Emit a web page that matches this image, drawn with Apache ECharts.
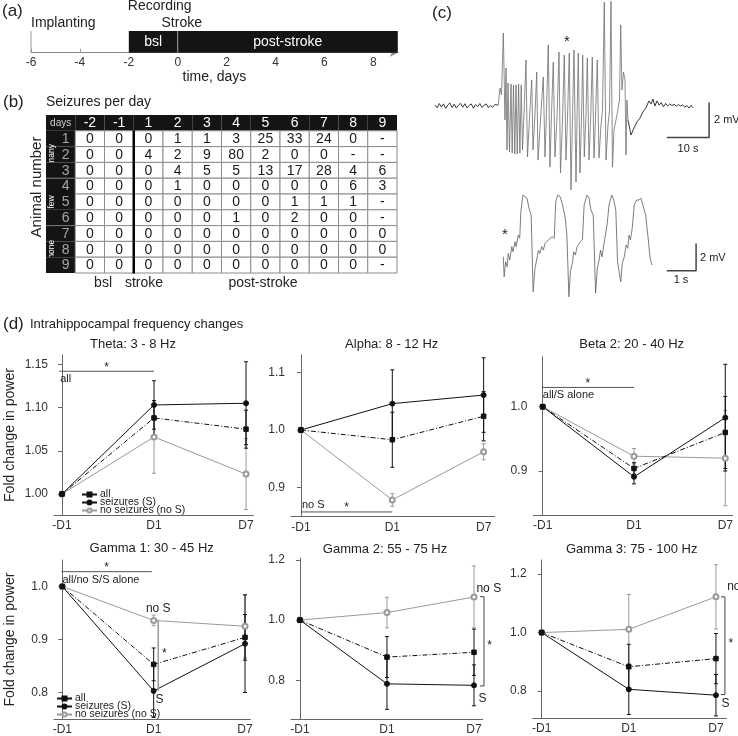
<!DOCTYPE html>
<html><head><meta charset="utf-8">
<script src="https://cdn.jsdelivr.net/npm/echarts@6/dist/echarts.min.js"></script>
<style>html,body{margin:0;padding:0;background:#fff}#c{width:738px;height:736px}</style>
</head><body><div id="c"></div>
<script>
const FONT = '"Liberation Sans", Arial, Helvetica, sans-serif';

// ---------- (a) timeline ----------
const timeTicks = [-6, -4, -2, 0, 2, 4, 6, 8];
const phaseNames = ['bsl', 'post-stroke'];
const phaseStart = [-2, 0];
const phaseEnd = [0, 9];
const eventNames = ['Implanting', 'Recording', 'Stroke'];
const eventDays = [-6, -2, 0];

// ---------- (b) table ----------
const tableDays = ['-2', '-1', '1', '2', '3', '4', '5', '6', '7', '8', '9'];
const animalIds = ['1', '2', '3', '4', '5', '6', '7', '8', '9'];
const animalGroups = ['many', 'few', 'none'];
const seizureCounts = [
  ['0','0','0','1','1','3','25','33','24','0','-'],
  ['0','0','4','2','9','80','2','0','0','-','-'],
  ['0','0','0','4','5','5','13','17','28','4','6'],
  ['0','0','0','1','0','0','0','0','0','6','3'],
  ['0','0','0','0','0','0','0','1','1','1','-'],
  ['0','0','0','0','0','1','0','2','0','0','-'],
  ['0','0','0','0','0','0','0','0','0','0','0'],
  ['0','0','0','0','0','0','0','0','0','0','0'],
  ['0','0','0','0','0','0','0','0','0','0','-']
];
const footerLabels = ['bsl', 'stroke', 'post-stroke'];
const footerPos = [1.95, 3.35, 7.42];

// ---------- (c) traces: [seconds, mV] ----------
const traceTopPre = [[0,0.05],[0.5,-0.1],[1,0.14],[1.5,-0.06],[2,0.12],[2.5,-0.14],[3,0.06],[3.5,0.17],[4,-0.09],[4.5,0.11],[5,-0.12],[5.5,0.05],[6,0.15],[6.5,-0.07],[7,0.13],[7.5,-0.11],[8,0.03],[8.5,0.12],[9,-0.13],[9.5,0.08],[10,-0.04],[10.5,0.14],[11,-0.08],[11.5,0.04],[12,0.12],[12.5,-0.1],[13,0.02],[13.5,-0.07],[14,0.08],[14.8,0.05]];
const traceTopSeizure = [[14.8,0.05],[15.22,1.03],[15.57,0.63],[16.0,4.17],[16.39,-0.8],[16.63,2.17],[16.86,-2.51],[17.1,1.31],[17.45,-2.63],[17.8,1.26],[18.08,-2.69],[18.38,1.2],[18.69,-2.74],[18.97,1.2],[19.27,-2.74],[19.58,1.26],[19.88,-2.69],[20.19,1.2],[20.49,-2.51],[20.84,-0.51],[21.31,2.63],[21.66,-2.91],[22.13,-0.69],[22.65,1.49],[22.95,-2.51],[23.42,-0.51],[23.82,1.94],[24.12,-3.09],[24.82,-0.34],[25.36,1.66],[25.76,-2.91],[26.11,-0.34],[26.53,3.49],[26.93,-3.49],[27.28,-0.51],[27.7,2.51],[28.1,-2.91],[28.57,-0.69],[29.04,3.09],[29.39,-3.83],[29.86,-0.8],[30.28,2.91],[30.68,-3.09],[31.03,-0.69],[31.45,3.03],[31.85,-4.8],[32.2,-0.8],[32.55,3.2],[33.02,-4.34],[33.26,-0.8],[33.56,3.03],[33.96,-3.83],[34.31,-0.69],[34.59,2.91],[34.97,-2.91],[35.36,-0.51],[35.67,2.74],[36.07,-3.09],[36.46,-0.69],[36.84,2.8],[37.24,-2.97],[37.59,-0.69],[38.01,2.63],[38.41,-2.97],[38.88,-1.09],[39.23,-0.23],[39.65,5.94],[40.05,-3.09],[40.52,-1.09],[40.87,-0.23],[41.22,5.98],[41.57,-3.49],[41.92,-1.37],[42.62,-0.51],[43.21,0.34],[43.49,4.63],[43.79,0.91],[44.15,1.94],[44.5,1.49],[44.73,-2.8],[44.96,0.34],[45.2,-0.8]];
const traceTopPost = [[45.2,-0.8],[45.9,-1.66],[46.6,-1.26],[47.3,-0.91],[48.0,-0.69],[48.7,-0.34],[49.4,-0.11],[50.1,0.29],[50.6,0.11],[51.05,0.4],[51.5,0.0],[52.0,0.29],[52.5,0.05],[53.0,0.2],[53.5,-0.05],[54.0,0.15],[54.5,0.0],[55.0,0.12],[55.5,0.02],[56.0,0.1],[56.5,-0.02],[57.0,0.08],[57.5,0.0],[58.0,0.06],[58.5,-0.06],[59.0,0.02],[59.5,-0.12],[60.0,0.04],[60.4,-0.1]];
const scaleBarTop = [[54.3,-1.8],[64.2,-1.8],[64.2,0.2]];
const traceBottom = [[0.02,1.02],[0.05,-0.44],[0.10,0.66],[0.15,0.29],[0.19,1.27],[0.24,0.78],[0.31,1.76],[0.35,1.39],[0.42,2.12],[0.46,1.76],[0.53,2.61],[0.58,2.37],[0.62,4.32],[0.69,5.54],[0.76,5.41],[0.83,5.30],[0.90,4.56],[0.97,4.07],[1.04,-1.54],[1.10,0.18],[1.16,0.78],[1.22,1.51],[1.27,1.27],[1.33,1.76],[1.39,1.51],[1.44,2.00],[1.50,1.88],[1.56,2.25],[1.61,2.12],[1.69,2.49],[1.76,2.37],[1.81,5.05],[1.88,5.54],[1.96,5.41],[2.03,4.93],[2.13,3.95],[2.19,2.61],[2.26,-1.90],[2.31,-0.07],[2.38,0.54],[2.42,1.39],[2.48,1.15],[2.54,1.76],[2.59,1.64],[2.65,2.12],[2.72,2.25],[2.78,4.81],[2.88,5.54],[2.95,5.30],[3.01,4.44],[3.09,4.07],[3.17,-1.65],[3.23,0.18],[3.29,0.78],[3.34,1.51],[3.39,1.02],[3.45,1.88],[3.50,1.76],[3.56,3.34],[3.63,4.81],[3.72,5.54],[3.79,5.17],[3.86,4.44],[3.92,0.66],[3.99,-0.31],[4.03,-0.80],[4.08,0.54],[4.15,1.02],[4.21,1.88],[4.27,1.64],[4.31,2.61],[4.36,2.25],[4.42,3.10],[4.49,4.81],[4.57,5.17],[4.65,5.17],[4.72,5.30],[4.80,4.68],[4.88,4.07],[4.97,2.25],[5.03,0.91],[5.09,0.42]];
const scaleBarBottom = [[5.6,0],[6.6,0],[6.6,2]];

// ---------- (d) frequency changes ----------
const dayLabels = ['-D1', 'D1', 'D7'];
const dayPos = [0, 1, 2];
const bandTitles = ['Theta: 3 - 8 Hz', 'Alpha: 8 - 12 Hz', 'Beta 2: 20 - 40 Hz', 'Gamma 1: 30 - 45 Hz', 'Gamma 2: 55 - 75 Hz', 'Gamma 3: 75 - 100 Hz'];
const yTickValues = [[1.00,1.05,1.10,1.15],[0.9,1.0,1.1],[0.9,1.0],[0.8,0.9,1.0],[0.8,1.0,1.2],[0.8,1.0,1.2]];
const meanAll = [[1,1.088,1.075],[1,0.983,1.024],[1,0.904,0.960],[1,0.853,0.904],[1,0.877,0.893],[1,0.883,0.911]];
const meanS   = [[1,1.103,1.105],[1,1.046,1.061],[1,0.891,0.983],[1,0.803,0.892],[1,0.788,0.783],[1,0.806,0.786]];
const meanNoS = [[1,1.066,1.023],[1,0.878,0.962],[1,0.923,0.920],[1,0.936,0.925],[1,1.025,1.077],[1,1.011,1.122]];
const errAll  = [[0,0.020,0.022],[0,0.048,0.043],[0,0.009,0.056],[0,0.031,0.043],[0,0.068,0.077],[0,0.077,0.086]];
const errS    = [[0,0.028,0.048],[0,0.059,0.065],[0,0.011,0.083],[0,0.050,0.092],[0,0.085,0.068],[0,0.086,0.071]];
const errNoS  = [[0,0.042,0.041],[0,0.011,0.014],[0,0.012,0.074],[0,0.010,0.060],[0,0.051,0.103],[0,0.119,0.110]];
// significance bars (panel, from, to, level, label)
const sigPanel = [0, 1, 2, 3];
const sigFrom = [-0.03, 0.0, -0.01, -0.01];
const sigTo = [1.0, 1.0, 1.0, 0.98];
const sigLevel = [1.142, 0.857, 1.030, 1.028];
const sigText = ['all', 'no S', 'all/S alone', 'all/no S/S alone'];
// S vs no S comparisons
const cmpPanel = [3, 4, 5];
const cmpX = [1.05, 2.115, 2.103];
const cmpHigh = [0.9375, 1.078, 1.122];
const cmpLow = [0.803, 0.781, 0.788];
const cmpStar = [[1.117, 0.873], [2.18, 0.916], [2.17, 0.962]];
const cmpTopLabel = [[1.05, 0.958], [2.17, 1.1035], [2.27, 1.156]];
const cmpBottomLabel = [[1.064, 0.787], [2.098, 0.74], [2.109, 0.757]];

// ---------- layout ----------
const dLayout = [
  {left:54, top:355, width:199.4, height:160, xMin:-0.087, xMax:2.08, yMin:0.9757, yMax:1.1608, dec:2, tx:133, ty:344},
  {left:291, top:355, width:203.6, height:161.7, xMin:-0.109, xMax:2.12, yMin:0.8487, yMax:1.1309, dec:1, tx:391.7, ty:344},
  {left:533.3, top:356.7, width:199.3, height:158.3, xMin:-0.103, xMax:2.08, yMin:0.8316, yMax:1.0778, dec:1, tx:631.7, ty:344},
  {left:54, top:560, width:196.5, height:160, xMin:-0.091, xMax:2.06, yMin:0.750, yMax:1.050, dec:1, tx:151.7, ty:548},
  {left:291, top:558, width:191.7, height:162, xMin:-0.103, xMax:2.1, yMin:0.671, yMax:1.2066, dec:1, tx:385, ty:549},
  {left:532.7, top:560, width:193.7, height:158, xMin:-0.103, xMax:2.12, yMin:0.708, yMax:1.248, dec:1, tx:631.7, ty:549}
];

const grids = [
  {left:31, top:31, width:366.8, height:21.7},
  {left:46, top:115, width:351, height:158},
  {left:435, top:1, width:281.8, height:192.5},
  {left:502.7, top:188.7, width:205.1, height:109.4}
];
const xAxes = [
  {gridIndex:0, type:'value', min:-6, max:9,
   axisLine:{show:true, symbol:['none','arrow'], symbolSize:[6,8], lineStyle:{color:'#888', width:1.2}},
   axisTick:{show:true, inside:true, length:4, customValues:timeTicks, lineStyle:{color:'#999'}},
   axisLabel:{customValues:timeTicks, fontSize:12, color:'#333', margin:4, fontFamily:FONT},
   splitLine:{show:false},
   name:'time, days', nameLocation:'middle', nameGap:17, nameTextStyle:{fontSize:14, color:'#222', fontFamily:FONT}},
  {gridIndex:1, type:'category', data:['days'].concat(tableDays), show:false},
  {gridIndex:2, type:'value', min:0, max:66, show:false},
  {gridIndex:3, type:'value', min:0, max:7, show:false}
];
const yAxes = [
  {gridIndex:0, type:'value', min:0, max:1, show:false},
  {gridIndex:1, type:'category', data:['h'].concat(animalIds), inverse:true, show:false},
  {gridIndex:2, type:'value', min:-5, max:6, show:false},
  {gridIndex:3, type:'value', min:-2, max:6, show:false}
];

const series = [];

// (a) phases
series.push({
  type:'custom', xAxisIndex:0, yAxisIndex:0, silent:true,
  data: phaseStart.map((s, i) => [s, phaseEnd[i]]),
  renderItem: function (params, api) {
    const i = params.dataIndex;
    const p0 = api.coord([api.value(0), 1]);
    const p1 = api.coord([api.value(1), 0]);
    const kids = [
      {type:'rect', shape:{x:p0[0], y:p0[1], width:p1[0]-p0[0], height:p1[1]-p0[1]}, style:{fill:'#141414'}},
      {type:'text', style:{text:phaseNames[i], x:(p0[0]+p1[0])/2, y:(p0[1]+p1[1])/2, align:'center', verticalAlign:'middle', textAlign:'center', textVerticalAlign:'middle', fill:'#fff', font:'14px ' + FONT}}
    ];
    if (i > 0) kids.push({type:'line', shape:{x1:p0[0], y1:p0[1], x2:p0[0], y2:p1[1]}, style:{stroke:'#999', lineWidth:1}});
    return {type:'group', children:kids};
  }
});
// (a) events
const eventDy = [-8, -25, -8];
const eventDx = [0, -1, 4];
const eventAlign = ['left', 'left', 'center'];
series.push({
  type:'custom', xAxisIndex:0, yAxisIndex:0, silent:true,
  data: eventDays.map(d => [d, 1]),
  renderItem: function (params, api) {
    const i = params.dataIndex;
    const top = api.coord([api.value(0), 1]);
    const bot = api.coord([api.value(0), 0]);
    const kids = [
      {type:'text', style:{text:eventNames[i], x:top[0]+eventDx[i], y:top[1]+eventDy[i], align:eventAlign[i], textAlign:eventAlign[i], verticalAlign:'middle', textVerticalAlign:'middle', fill:'#222', font:'14px ' + FONT}}
    ];
    if (i === 0) kids.push({type:'line', shape:{x1:top[0], y1:top[1], x2:bot[0], y2:bot[1]}, style:{stroke:'#999', lineWidth:1}});
    return {type:'group', children:kids};
  }
});

// (b) table cells
const cells = [];
for (let r = 0; r < 10; r++) for (let c = 0; c < 12; c++) cells.push([c, r]);
series.push({
  type:'custom', xAxisIndex:1, yAxisIndex:1, silent:true, data:cells,
  renderItem: function (params, api) {
    const c = api.value(0), r = api.value(1);
    const ctr = api.coord([c, r]);
    const sz = api.size([1, 1]);
    const w = sz[0], h = sz[1];
    const x0 = ctr[0] - w / 2, y0 = ctr[1] - h / 2;
    const dark = (r === 0 || c === 0);
    const kids = [{type:'rect', shape:{x:x0, y:y0, width:w, height:h},
      style: dark ? {fill:'#141414'} : {fill:'#fff', stroke:'#8c8c8c', lineWidth:1}}];
    let txt, fill = '#1a1a1a', font = '14px ' + FONT, tx = ctr[0];
    if (r === 0) {
      txt = c === 0 ? 'days' : tableDays[c - 1];
      fill = c === 0 ? '#cfcfcf' : '#fff';
      if (c === 0) font = '10px ' + FONT;
    } else if (c === 0) {
      txt = animalIds[r - 1]; fill = '#a6a6a6'; tx = ctr[0] + 5;
    } else {
      txt = seizureCounts[r - 1][c - 1];
    }
    kids.push({type:'text', style:{text:String(txt), x:tx, y:ctr[1] + 0.5, align:'center', textAlign:'center', verticalAlign:'middle', textVerticalAlign:'middle', fill:fill, font:font}});
    if (c === 0 && (r === 2 || r === 5 || r === 8)) {
      kids.push({type:'text', x:ctr[0] - 9, y:ctr[1], rotation:Math.PI / 2,
        style:{text:animalGroups[(r - 2) / 3], x:0, y:0, align:'center', textAlign:'center', verticalAlign:'middle', textVerticalAlign:'middle', fill:'#fff', font:'8.5px ' + FONT}});
    }
    if (c === 0 && (r === 4 || r === 7)) {
      kids.push({type:'line', shape:{x1:x0, y1:y0, x2:x0 + w, y2:y0}, style:{stroke:'#777', lineWidth:1}});
    }
    if (c === 3 && r >= 1) {
      kids.push({type:'line', shape:{x1:x0, y1:y0 - 0.5, x2:x0, y2:y0 + h + 0.5}, style:{stroke:'#000', lineWidth:2.5}});
    }
    return {type:'group', children:kids};
  }
});
// (b) footer
series.push({
  type:'custom', xAxisIndex:1, yAxisIndex:1, silent:true, data:[[0, 9]],
  renderItem: function (params, api) {
    const ctr = api.coord([0, 9]);
    const sz = api.size([1, 1]);
    const left = ctr[0] - sz[0] / 2, bottom = ctr[1] + sz[1] / 2;
    const kids = footerLabels.map((t, i) => ({type:'text', style:{text:t, x:left + footerPos[i] * sz[0], y:bottom + 10, align:'center', textAlign:'center', verticalAlign:'middle', textVerticalAlign:'middle', fill:'#222', font:'14px ' + FONT}}));
    return {type:'group', children:kids};
  }
});

// (c) traces
series.push({type:'line', xAxisIndex:2, yAxisIndex:2, data:traceTopPre, showSymbol:false, silent:true, lineStyle:{color:'#222', width:0.9}});
series.push({type:'line', xAxisIndex:2, yAxisIndex:2, data:traceTopSeizure, showSymbol:false, silent:true, lineStyle:{color:'#6e6e6e', width:0.8}});
series.push({type:'line', xAxisIndex:2, yAxisIndex:2, data:traceTopPost, showSymbol:false, silent:true, lineStyle:{color:'#222', width:0.9}});
series.push({type:'line', xAxisIndex:2, yAxisIndex:2, data:scaleBarTop, showSymbol:false, silent:true, lineStyle:{color:'#444', width:1.5}});
series.push({type:'line', xAxisIndex:3, yAxisIndex:3, data:traceBottom, showSymbol:false, silent:true, lineStyle:{color:'#6e6e6e', width:0.9}});
series.push({type:'line', xAxisIndex:3, yAxisIndex:3, data:scaleBarBottom, showSymbol:false, silent:true, lineStyle:{color:'#444', width:1.5}});

// (d) panels
const seriesDefs = [
  {name:'no seizures (no S)', mean:meanNoS, err:errNoS, color:'#9a9a9a', symbol:'emptyCircle', size:5, type:'solid'},
  {name:'all', mean:meanAll, err:errAll, color:'#111', symbol:'rect', size:4.5, type:[5, 2, 1, 2]},
  {name:'seizures (S)', mean:meanS, err:errS, color:'#111', symbol:'circle', size:5, type:'solid'}
];
dLayout.forEach((L, p) => {
  const gi = 4 + p;
  grids.push({left:L.left, top:L.top, width:L.width, height:L.height});
  xAxes.push({gridIndex:gi, type:'value', min:L.xMin, max:L.xMax,
    axisLine:{show:true, lineStyle:{color:'#666', width:1}},
    axisTick:{show:false}, splitLine:{show:false},
    axisLabel:{customValues:dayPos, formatter:v => dayLabels[Math.round(v)], fontSize:12, color:'#333', margin:5, fontFamily:FONT}});
  const ya = {gridIndex:gi, type:'value', min:L.yMin, max:L.yMax,
    axisLine:{show:true, lineStyle:{color:'#666', width:1}},
    axisTick:{show:true, length:4, customValues:yTickValues[p], lineStyle:{color:'#666'}},
    splitLine:{show:false},
    axisLabel:{customValues:yTickValues[p], formatter:v => v.toFixed(L.dec), fontSize:12, color:'#333', margin:6, fontFamily:FONT}};
  if (p === 0 || p === 3) {
    ya.name = 'Fold change in power'; ya.nameLocation = 'middle'; ya.nameGap = 37;
    ya.nameTextStyle = {fontSize:14, color:'#222', fontFamily:FONT};
  }
  yAxes.push(ya);
  seriesDefs.forEach(sd => {
    series.push({type:'custom', xAxisIndex:gi, yAxisIndex:gi, silent:true,
      data: dayPos.slice(1).map((x, k) => [x, sd.mean[p][k + 1] - sd.err[p][k + 1], sd.mean[p][k + 1] + sd.err[p][k + 1]]),
      renderItem: function (params, api) {
        const lo = api.coord([api.value(0), api.value(1)]);
        const hi = api.coord([api.value(0), api.value(2)]);
        const st = {stroke:sd.color, lineWidth:1};
        return {type:'group', children:[
          {type:'line', shape:{x1:lo[0], y1:lo[1], x2:hi[0], y2:hi[1]}, style:st},
          {type:'line', shape:{x1:lo[0] - 2, y1:lo[1], x2:lo[0] + 2, y2:lo[1]}, style:st},
          {type:'line', shape:{x1:hi[0] - 2, y1:hi[1], x2:hi[0] + 2, y2:hi[1]}, style:st}
        ]};
      }});
  });
  seriesDefs.forEach(sd => {
    series.push({type:'line', name:sd.name, xAxisIndex:gi, yAxisIndex:gi, silent:true,
      data: dayPos.map((x, k) => [x, sd.mean[p][k]]),
      symbol:sd.symbol, symbolSize:sd.size, showSymbol:true,
      lineStyle:{color:sd.color, width:1, type:sd.type},
      itemStyle:{color:sd.color, borderColor:sd.color, borderWidth:1}, z:3});
  });
  // annotations
  series.push({type:'custom', xAxisIndex:gi, yAxisIndex:gi, silent:true, z:4, data:[[0, 1]],
    renderItem: function (params, api) {
      const kids = [];
      const tStyle = (text, pt, align, size, color) => ({type:'text', style:{text:text, x:pt[0], y:pt[1], align:align, textAlign:align, verticalAlign:'middle', textVerticalAlign:'middle', fill:color || '#222', font:size + 'px ' + FONT}});
      sigPanel.forEach((sp, i) => {
        if (sp !== p) return;
        const a = api.coord([sigFrom[i], sigLevel[i]]);
        const b = api.coord([sigTo[i], sigLevel[i]]);
        kids.push({type:'line', shape:{x1:a[0], y1:a[1], x2:b[0], y2:b[1]}, style:{stroke:'#555', lineWidth:1}});
        kids.push(tStyle('*', [(a[0] + b[0]) / 2, a[1] - 4], 'center', 12));
        if (p === 1) kids.push(tStyle(sigText[i], [a[0] + 1, a[1] - 7], 'left', 11));
        else kids.push(tStyle(sigText[i], [a[0] + 1, a[1] + 8], 'left', 11));
      });
      cmpPanel.forEach((cp, i) => {
        if (cp !== p) return;
        const hi = api.coord([cmpX[i], cmpHigh[i]]);
        const lo = api.coord([cmpX[i], cmpLow[i]]);
        if (p === 3) {
          kids.push({type:'line', shape:{x1:hi[0], y1:hi[1], x2:lo[0], y2:lo[1]}, style:{stroke:'#9a9a9a', lineWidth:1.5}});
        } else {
          const st = {stroke:'#444', lineWidth:1};
          kids.push({type:'line', shape:{x1:hi[0], y1:hi[1], x2:lo[0], y2:lo[1]}, style:st});
          kids.push({type:'line', shape:{x1:hi[0] - 4, y1:hi[1], x2:hi[0], y2:hi[1]}, style:st});
          kids.push({type:'line', shape:{x1:lo[0] - 4, y1:lo[1], x2:lo[0], y2:lo[1]}, style:st});
        }
        kids.push(tStyle('*', api.coord(cmpStar[i]), 'center', 12));
        kids.push(tStyle('no S', api.coord(cmpTopLabel[i]), 'center', 12));
        kids.push(tStyle('S', api.coord(cmpBottomLabel[i]), 'center', 12));
      });
      return {type:'group', children:kids};
    }});
});

const legendBase = {orient:'vertical', itemWidth:15, itemHeight:5, itemGap:-3, padding:0, selectedMode:false,
  data:['all', 'seizures (S)', 'no seizures (no S)'],
  textStyle:{fontSize:10.5, color:'#222', fontFamily:FONT, padding:[0,0,0,-2]}};

const gtext = (text, x, y, size, align, extra) => Object.assign({type:'text', x:x, y:y, silent:true,
  style:{text:text, font:size + 'px ' + FONT, fill:'#222', textAlign:align || 'left', textVerticalAlign:'middle', align:align || 'left', verticalAlign:'middle'}}, extra || {});

const graphic = [
  gtext('(a)', 2, 11, 17),
  gtext('(b)', 3, 102, 17),
  gtext('Seizures per day', 46, 102, 14),
  gtext('Animal number', 37, 187, 15, 'center', {rotation:Math.PI / 2}),
  gtext('(c)', 432, 13, 17),
  gtext('*', 567, 42, 15, 'center'),
  gtext('*', 505, 235, 15, 'center'),
  gtext('2 mV', 714, 120, 11),
  gtext('10 s', 688, 149, 11, 'center'),
  gtext('2 mV', 700, 258, 11),
  gtext('1 s', 681, 280, 11, 'center'),
  gtext('(d)', 3, 324, 17),
  gtext('Intrahippocampal frequency changes', 30, 324, 13)
];
dLayout.forEach((L, p) => graphic.push(gtext(bandTitles[p], L.tx, L.ty, 13, 'center')));

const chart = echarts.init(document.getElementById('c'), null, {renderer:'canvas', width:738, height:736});
chart.setOption({
  animation:false,
  backgroundColor:'#fff',
  textStyle:{fontFamily:FONT},
  grid:grids, xAxis:xAxes, yAxis:yAxes,
  legend:[Object.assign({left:81, top:489}, legendBase), Object.assign({left:56, top:693}, legendBase)],
  graphic:graphic,
  series:series
});
</script></body></html>
